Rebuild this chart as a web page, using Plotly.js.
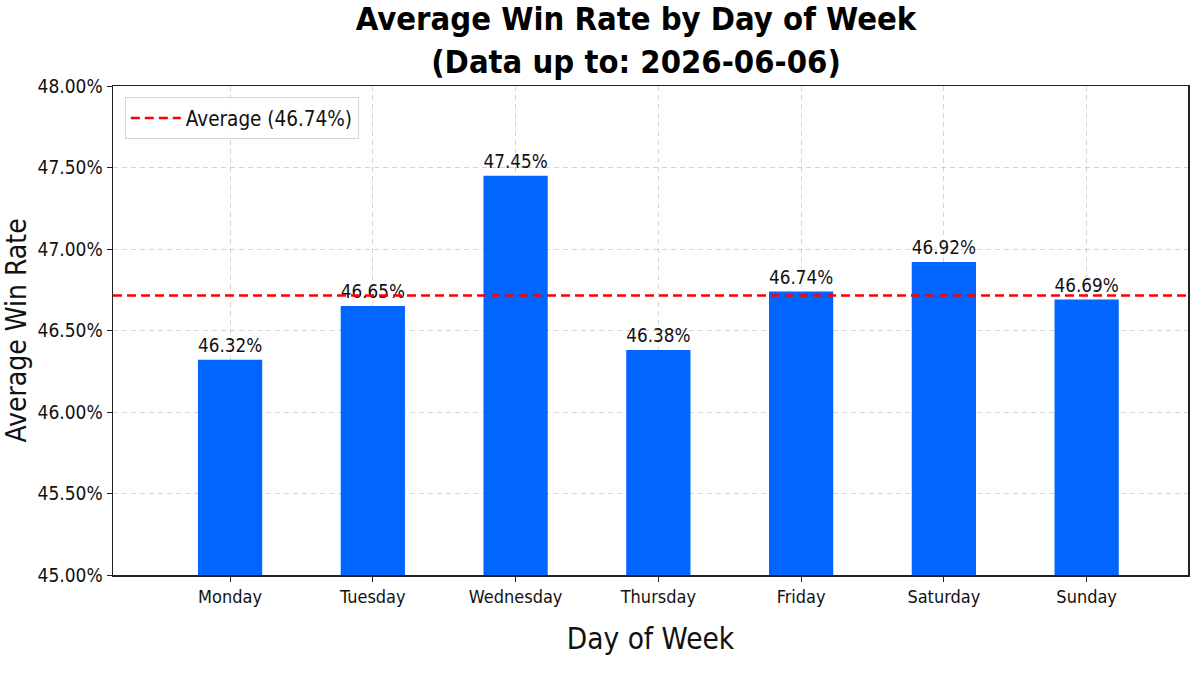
<!DOCTYPE html>
<html>
<head>
<meta charset="utf-8">
<script src="https://cdn.plot.ly/plotly-3.0.1.min.js"></script>
<style>
  html, body { margin: 0; padding: 0; background: #fff; }
  #chart { width: 1200px; height: 675px; }
</style>
</head>
<body>
<div id="chart"></div>
<script>
var days = ['Monday', 'Tuesday', 'Wednesday', 'Thursday', 'Friday', 'Saturday', 'Sunday'];
var winRates = [46.32, 46.65, 47.45, 46.38, 46.74, 46.92, 46.69];
// the dashed line sits a little under the value printed in the legend
var avgLine = 46.715;
var avgLabel = 'Average (46.74%)';
var yTickVals = [45.0, 45.5, 46.0, 46.5, 47.0, 47.5, 48.0];

var fnt = 'DejaVu Sans Condensed, DejaVu Sans, sans-serif';

var bars = {
  x: days,
  y: winRates,
  type: 'bar',
  width: 0.45,
  marker: { color: '#0066ff' },
  text: winRates.map(function (v) { return v.toFixed(2) + '%'; }),
  textposition: 'outside',
  textfont: { family: fnt, size: 20, color: '#111' },
  cliponaxis: false,
  showlegend: false,
  hoverinfo: 'x+y'
};

// average line drawn on a hidden 0..1 axis so it spans the whole plot
var avg = {
  x: [0, 1],
  y: [avgLine, avgLine],
  xaxis: 'x2',
  type: 'scatter',
  mode: 'lines',
  name: avgLabel,
  line: { color: '#ff0000', width: 2.5, dash: '9px,5px' }
};

var layout = {
  width: 1200,
  height: 675,
  paper_bgcolor: '#fff',
  plot_bgcolor: '#fff',
  font: { family: fnt, color: '#111' },
  margin: { l: 113, r: 12, t: 86, b: 100 },
  title: {
    text: '<b>Average Win Rate by Day of Week<br>(Data up to: 2026-06-06)</b>',
    font: { family: fnt, size: 32.5, color: '#000' },
    x: 0.53,
    xanchor: 'center',
    y: 0.955,
    yanchor: 'top',
    yref: 'container'
  },
  xaxis: {
    type: 'category',
    range: [-0.82, 6.71],
    showline: true,
    mirror: true,
    linecolor: '#222',
    linewidth: 1.5,
    ticks: 'outside',
    ticklen: 5,
    tickcolor: '#222',
    tickfont: { family: fnt, size: 18, color: '#111' },
    showgrid: true,
    gridcolor: 'rgba(0,0,0,0.16)',
    griddash: '5px,4px',
    zeroline: false,
    title: { text: 'Day of Week', font: { family: fnt, size: 29.5, color: '#111' }, standoff: 22 }
  },
  xaxis2: {
    overlaying: 'x',
    range: [0, 1],
    visible: false
  },
  yaxis: {
    range: [45, 48],
    tickvals: yTickVals,
    ticktext: yTickVals.map(function (v) { return v.toFixed(2) + '%'; }),
    showline: true,
    mirror: true,
    linecolor: '#222',
    linewidth: 1.5,
    ticks: 'outside',
    ticklen: 5,
    tickcolor: '#222',
    tickfont: { family: fnt, size: 19, color: '#111' },
    showgrid: true,
    gridcolor: 'rgba(0,0,0,0.16)',
    griddash: '5px,4px',
    zeroline: false,
    title: { text: 'Average Win Rate', font: { family: fnt, size: 28, color: '#111' }, standoff: 6 }
  },
  legend: {
    x: 0.011,
    y: 0.977,
    xanchor: 'left',
    yanchor: 'top',
    itemwidth: 50,
    bgcolor: 'rgba(255,255,255,0.9)',
    bordercolor: '#d6d6d6',
    borderwidth: 1,
    font: { family: fnt, size: 20.5, color: '#111' }
  },
  showlegend: true
};

Plotly.newPlot('chart', [bars, avg], layout, { displayModeBar: false, staticPlot: true });
</script>
</body>
</html>
